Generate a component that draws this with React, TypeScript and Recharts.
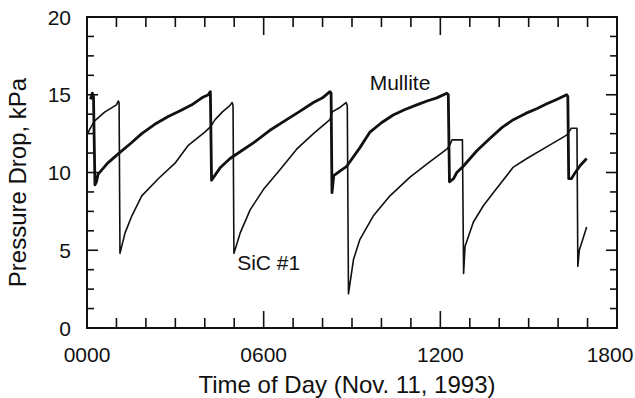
import React from 'react';
import { LineChart, Line, XAxis, YAxis, ReferenceDot } from 'recharts';

// ---- data (hours since 0000, pressure drop in kPa) ----
const mulliteTime = [
  0.12, 0.18, 0.22, 0.27, 0.32, 0.38, 0.7, 1.06, 1.5, 1.86, 2.3, 2.76, 3.2, 3.56, 3.9, 4.12, 4.19, 4.23,
  4.3, 4.52, 4.86, 5.25, 5.65, 6.2, 6.78, 7.2, 7.69, 8.0, 8.25, 8.29, 8.32, 8.38, 8.6, 8.82, 9.27, 9.61,
  10.0, 10.4, 10.8, 11.2, 11.55, 11.88, 12.22, 12.27, 12.31, 12.45, 12.56, 12.78, 13.24, 13.69, 14.1,
  14.48, 14.9, 15.27, 15.6, 15.95, 16.29, 16.33, 16.36, 16.45, 16.55, 16.75, 16.97,
];
const mulliteValue = [
  14.7, 15.1, 14.9, 9.2, 9.4, 9.9, 10.6, 11.2, 11.9, 12.5, 13.1, 13.6, 14.0, 14.35, 14.8, 15.0, 15.2, 9.5,
  9.7, 10.3, 10.9, 11.4, 11.9, 12.7, 13.4, 13.9, 14.5, 14.8, 15.2, 15.1, 8.7, 9.8, 10.1, 10.4, 11.6, 12.6,
  13.2, 13.7, 14.05, 14.35, 14.6, 14.8, 15.1, 15.0, 9.4, 9.6, 10.0, 10.4, 11.4, 12.2, 12.9,
  13.4, 13.8, 14.1, 14.4, 14.7, 15.0, 14.9, 9.6, 9.6, 9.9, 10.45, 10.9,
];

const sicTime = [
  0.0, 0.1, 0.25, 0.61, 1.0, 1.06, 1.09, 1.12, 1.29, 1.52, 1.86, 2.42, 2.99, 3.44, 4.0, 4.2, 4.35, 4.6,
  4.85, 4.93, 4.96, 4.99, 5.2, 5.54, 5.99, 6.56, 7.12, 7.69, 8.25, 8.33, 8.6, 8.8, 8.84, 8.88, 9.05, 9.27,
  9.72, 10.29, 10.97, 11.65, 12.22, 12.3, 12.4, 12.75, 12.79, 12.84, 13.12, 13.46, 13.8, 14.48, 14.94,
  15.61, 16.29, 16.36, 16.45, 16.64, 16.67, 16.72, 16.97,
];
const sicValue = [
  12.4, 12.8, 13.3, 13.9, 14.35, 14.6, 14.5, 4.8, 6.1, 7.2, 8.5, 9.6, 10.6, 11.75, 12.6, 12.95, 13.4, 13.9,
  14.3, 14.5, 14.3, 4.8, 6.1, 7.6, 8.9, 10.2, 11.5, 12.5, 13.4, 13.9, 14.2, 14.5, 14.3, 2.2, 4.4, 5.7,
  7.2, 8.5, 9.7, 10.7, 11.5, 11.7, 12.1, 12.1, 3.5, 5.26, 6.8, 7.86, 8.7, 10.35, 10.9,
  11.65, 12.4, 12.6, 12.85, 12.85, 3.96, 5.0, 6.5,
];

const xTicks = [0, 1, 2, 3, 4, 5, 6, 7, 8, 9, 10, 11, 12, 13, 14, 15, 16, 17, 18];
const xMajorTicks = [0, 6, 12, 18];
const xTickLabels = ['0000', '0600', '1200', '1800'];
const yTicks = [0, 1.25, 2.5, 3.75, 5, 6.25, 7.5, 8.75, 10, 11.25, 12.5, 13.75, 15, 16.25, 17.5, 18.75, 20];
const yMajorTicks = [0, 5, 10, 15, 20];
const yTickLabels = ['0', '5', '10', '15', '20'];

const seriesNames = ['Mullite', 'SiC #1'];
const xTitle = 'Time of Day (Nov. 11, 1993)';
const yTitle = 'Pressure Drop, kPa';

const mulliteData = mulliteTime.map((t, i) => ({ t, v: mulliteValue[i] }));
const sicData = sicTime.map((t, i) => ({ t, v: sicValue[i] }));

const FONT = '"Liberation Sans", Arial, Helvetica, sans-serif';
const INK = '#111';

const BottomTick = (props: any) => {
  const { x, y, payload } = props;
  const idx = xMajorTicks.indexOf(payload.value);
  const major = idx >= 0;
  const last = idx === xMajorTicks.length - 1;
  return (
    <g>
      <line x1={x} x2={x} y1={y} y2={y - (major ? 17 : 10)} stroke={INK} strokeWidth={1.6} />
      {major && (
        <text x={last ? x - 7 : x} y={y + 34} textAnchor="middle" fontSize={21} fontFamily={FONT} fill={INK}>
          {xTickLabels[idx]}
        </text>
      )}
    </g>
  );
};

const TopTick = (props: any) => {
  const { x, y, payload } = props;
  const major = xMajorTicks.includes(payload.value);
  return <line x1={x} x2={x} y1={y} y2={y + (major ? 18 : 10)} stroke={INK} strokeWidth={1.6} />;
};

const LeftTick = (props: any) => {
  const { x, y, payload } = props;
  const idx = yMajorTicks.indexOf(payload.value);
  const major = idx >= 0;
  return (
    <g>
      <line x1={x} x2={x + (major ? 11 : 7)} y1={y} y2={y} stroke={INK} strokeWidth={1.6} />
      {major && (
        <text x={x - 16} y={y} dy="0.36em" textAnchor="end" fontSize={21} fontFamily={FONT} fill={INK}>
          {yTickLabels[idx]}
        </text>
      )}
    </g>
  );
};

const RightTick = (props: any) => {
  const { x, y, payload } = props;
  const major = yMajorTicks.includes(payload.value);
  return <line x1={x} x2={x - (major ? 11 : 7)} y1={y} y2={y} stroke={INK} strokeWidth={1.6} />;
};

const XTitle = (props: any) => {
  const vb = props.viewBox || { x: 87, y: 328, width: 530 };
  return (
    <text x={vb.x + vb.width / 2 - 5} y={vb.y + 65} textAnchor="middle" fontSize={24} fontFamily={FONT} fill={INK}>
      {xTitle}
    </text>
  );
};

const YTitle = (props: any) => {
  const vb = props.viewBox || { x: 0, y: 17, width: 87, height: 311 };
  const cx = 26;
  const cy = vb.y + vb.height / 2 + 10;
  return (
    <text x={cx} y={cy} transform={`rotate(-90 ${cx} ${cy})`} textAnchor="middle" fontSize={24} fontFamily={FONT} fill={INK}>
      {yTitle}
    </text>
  );
};

const axisLine = { stroke: INK, strokeWidth: 2, strokeLinecap: 'square' as const };

export default function App() {
  return (
    <div style={{ position: 'absolute', left: 0, top: 0, background: '#fff' }}>
      <LineChart width={635} height={398} margin={{ top: 16, right: 17, bottom: 0, left: 0 }}>
        <XAxis
          xAxisId="bottom"
          dataKey="t"
          type="number"
          domain={[0, 18]}
          ticks={xTicks}
          interval={0}
          height={70}
          tickSize={0}
          tickMargin={0}
          tickLine={false}
          axisLine={axisLine}
          tick={<BottomTick />}
          label={<XTitle />}
        />
        <XAxis
          xAxisId="top"
          dataKey="t"
          orientation="top"
          type="number"
          domain={[0, 18]}
          ticks={xTicks}
          interval={0}
          height={1}
          tickSize={0}
          tickMargin={0}
          tickLine={false}
          axisLine={axisLine}
          tick={<TopTick />}
        />
        <YAxis
          yAxisId="left"
          type="number"
          domain={[0, 20]}
          ticks={yTicks}
          interval={0}
          width={87}
          tickSize={0}
          tickMargin={0}
          tickLine={false}
          axisLine={axisLine}
          tick={<LeftTick />}
          label={<YTitle />}
        />
        <YAxis
          yAxisId="right"
          orientation="right"
          type="number"
          domain={[0, 20]}
          ticks={yTicks}
          interval={0}
          width={1}
          tickSize={0}
          tickMargin={0}
          tickLine={false}
          axisLine={axisLine}
          tick={<RightTick />}
        />
        {/* invisible series that binds the mirrored frame axes */}
        <Line
          xAxisId="top"
          yAxisId="right"
          data={mulliteData}
          dataKey="v"
          stroke="none"
          dot={false}
          activeDot={false}
          legendType="none"
          isAnimationActive={false}
        />
        <Line
          xAxisId="bottom"
          yAxisId="left"
          data={sicData}
          dataKey="v"
          name={seriesNames[1]}
          type="linear"
          stroke={INK}
          strokeWidth={1.6}
          strokeLinejoin="round"
          dot={false}
          activeDot={false}
          isAnimationActive={false}
        />
        <Line
          xAxisId="bottom"
          yAxisId="left"
          data={mulliteData}
          dataKey="v"
          name={seriesNames[0]}
          type="linear"
          stroke={INK}
          strokeWidth={2.8}
          strokeLinejoin="round"
          dot={false}
          activeDot={false}
          isAnimationActive={false}
        />
        <ReferenceDot
          xAxisId="bottom"
          yAxisId="left"
          x={9.6}
          y={15.3}
          r={0}
          shape={(p: any) => (
            <text x={p.cx} y={p.cy} fontSize={21} fontFamily={FONT} fill={INK}>
              {seriesNames[0]}
            </text>
          )}
        />
        <ReferenceDot
          xAxisId="bottom"
          yAxisId="left"
          x={5.1}
          y={3.75}
          r={0}
          shape={(p: any) => (
            <text x={p.cx} y={p.cy} fontSize={21} fontFamily={FONT} fill={INK}>
              {seriesNames[1]}
            </text>
          )}
        />
      </LineChart>
    </div>
  );
}
